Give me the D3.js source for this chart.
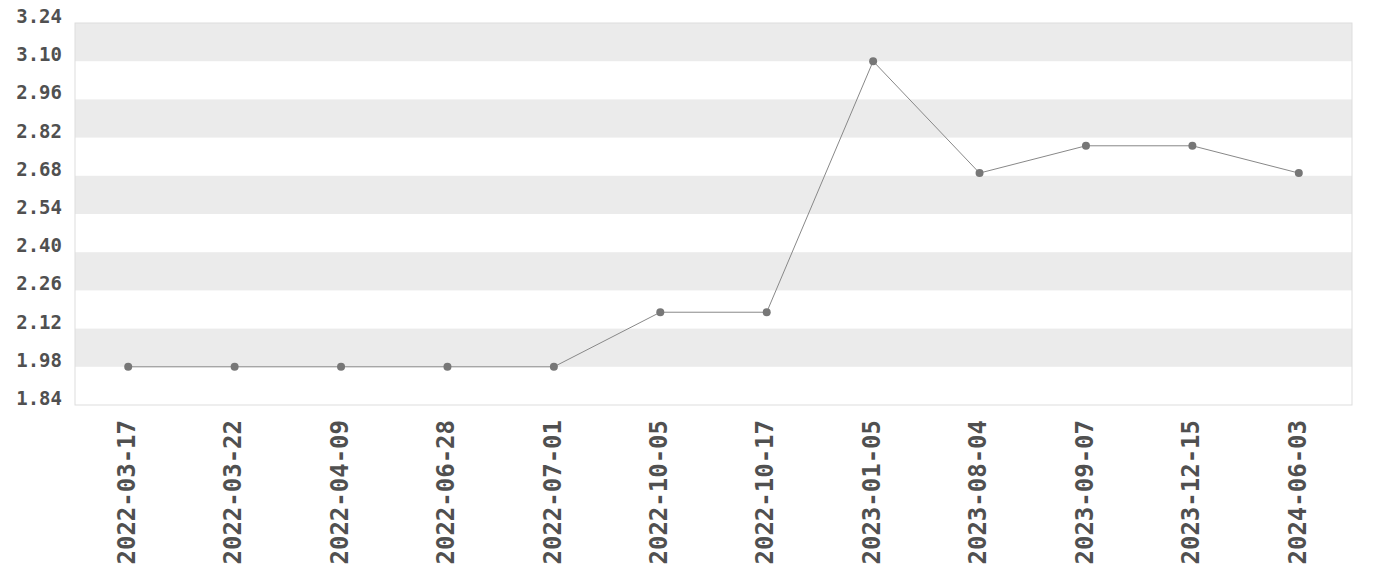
<!DOCTYPE html>
<html>
<head>
<meta charset="utf-8">
<script src="https://cdn.jsdelivr.net/npm/d3@7"></script>
<style>
  body { margin: 0; background: #fff; }
  text { font-family: "DejaVu Sans Mono", monospace; font-weight: bold; fill: #505050; }
</style>
</head>
<body>
<div id="chart"></div>
<script>
const dates = ["2022-03-17", "2022-03-22", "2022-04-09", "2022-06-28", "2022-07-01", "2022-10-05",
               "2022-10-17", "2023-01-05", "2023-08-04", "2023-09-07", "2023-12-15", "2024-06-03"];
const values = [1.98, 1.98, 1.98, 1.98, 1.98, 2.18, 2.18, 3.10, 2.69, 2.79, 2.79, 2.69];
const yTicks = [1.84, 1.98, 2.12, 2.26, 2.40, 2.54, 2.68, 2.82, 2.96, 3.10, 3.24];

const width = 1380, height = 580;
const margin = {top: 23, right: 28, bottom: 175, left: 75};
const w = width - margin.left - margin.right,
      h = height - margin.top - margin.bottom;

const svg = d3.select("#chart").append("svg")
  .attr("width", width)
  .attr("height", height);

const g = svg.append("g")
  .attr("transform", `translate(${margin.left},${margin.top})`);

const x = d3.scaleBand().domain(dates).range([0, w]).padding(0);
const y = d3.scaleLinear().domain([1.84, 3.24]).range([h, 0]);

// alternating bands
const bands = d3.range(0, yTicks.length - 1).filter(i => i % 2 === 1);
g.selectAll("rect.band")
  .data(bands)
  .join("rect")
  .attr("class", "band")
  .attr("x", 0)
  .attr("width", w)
  .attr("y", i => y(yTicks[i + 1]))
  .attr("height", i => y(yTicks[i]) - y(yTicks[i + 1]))
  .attr("fill", "#ebebeb");

g.append("rect")
  .attr("x", 0).attr("y", 0)
  .attr("width", w).attr("height", h)
  .attr("fill", "none")
  .attr("stroke", "#ddd");

// y labels, baseline on the tick
g.selectAll("text.ylab")
  .data(yTicks)
  .join("text")
  .attr("class", "ylab")
  .attr("x", -13)
  .attr("y", d => y(d))
  .attr("text-anchor", "end")
  .attr("font-size", 19)
  .text(d => d.toFixed(2));

// x labels
g.selectAll("text.xlab")
  .data(dates)
  .join("text")
  .attr("class", "xlab")
  .attr("transform", d => `translate(${x(d) + x.bandwidth() / 2},${h + 15}) rotate(-90)`)
  .attr("text-anchor", "end")
  .attr("dy", "0.28em")
  .attr("font-size", 24)
  .text(d => d);

const line = d3.line()
  .x((d, i) => x(dates[i]) + x.bandwidth() / 2)
  .y(d => y(d));

g.append("path")
  .datum(values)
  .attr("d", line)
  .attr("fill", "none")
  .attr("stroke", "#888")
  .attr("stroke-width", 1);

g.selectAll("circle")
  .data(values)
  .join("circle")
  .attr("cx", (d, i) => x(dates[i]) + x.bandwidth() / 2)
  .attr("cy", d => y(d))
  .attr("r", 4)
  .attr("fill", "#777");
</script>
</body>
</html>
